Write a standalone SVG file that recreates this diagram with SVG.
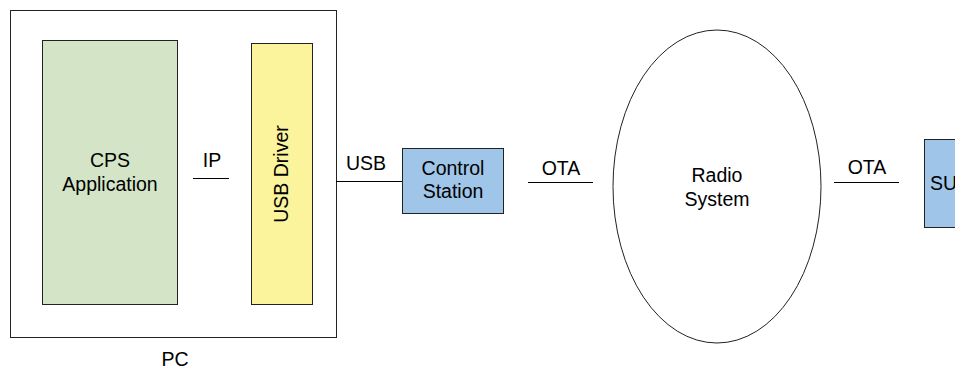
<svg xmlns="http://www.w3.org/2000/svg" width="955" height="369" viewBox="0 0 955 369">
<style>
text{font-family:"Liberation Sans",Arial,sans-serif;font-size:19.5px;fill:#000;text-anchor:middle}
.b{stroke:#222;stroke-width:1}
.l{stroke:#000;stroke-width:1;fill:none}
</style>
<rect width="955" height="369" fill="#fff"/>
<g id="pc">
<rect class="b" x="10.5" y="10.5" width="326" height="327" fill="#fff"/>
<text x="175" y="366">PC</text>
</g>
<g id="cps">
<rect class="b" x="42.5" y="40.5" width="135" height="264" fill="#d3e5c6"/>
<text x="110" y="167">CPS</text>
<text x="110" y="191">Application</text>
</g>
<g id="usbdriver">
<rect class="b" x="251.5" y="43.5" width="61" height="261" fill="#fbf49c"/>
<text transform="translate(288,174) rotate(-90)">USB Driver</text>
</g>
<g id="control">
<rect class="b" x="402.5" y="148.5" width="101" height="65" fill="#9fc5e8"/>
<text x="453" y="175">Control</text>
<text x="453" y="198">Station</text>
</g>
<g id="radio">
<ellipse class="b" cx="717" cy="186.5" rx="104" ry="156.5" fill="#fff"/>
<text x="717" y="182">Radio</text>
<text x="717" y="206">System</text>
</g>
<g id="su">
<rect class="b" x="924.5" y="139.5" width="60" height="88" fill="#9fc5e8"/>
<text x="930" y="190" style="text-anchor:start">SU</text>
</g>
<g id="connectors">
<line class="l" x1="193" y1="178.5" x2="229" y2="178.5"/>
<text x="212" y="167">IP</text>
<line class="l" x1="336" y1="181.5" x2="402" y2="181.5"/>
<text x="366" y="170">USB</text>
<line class="l" x1="528" y1="182.5" x2="593" y2="182.5"/>
<text x="561" y="175">OTA</text>
<line class="l" x1="834" y1="182.5" x2="899" y2="182.5"/>
<text x="867" y="174">OTA</text>
</g>
</svg>
